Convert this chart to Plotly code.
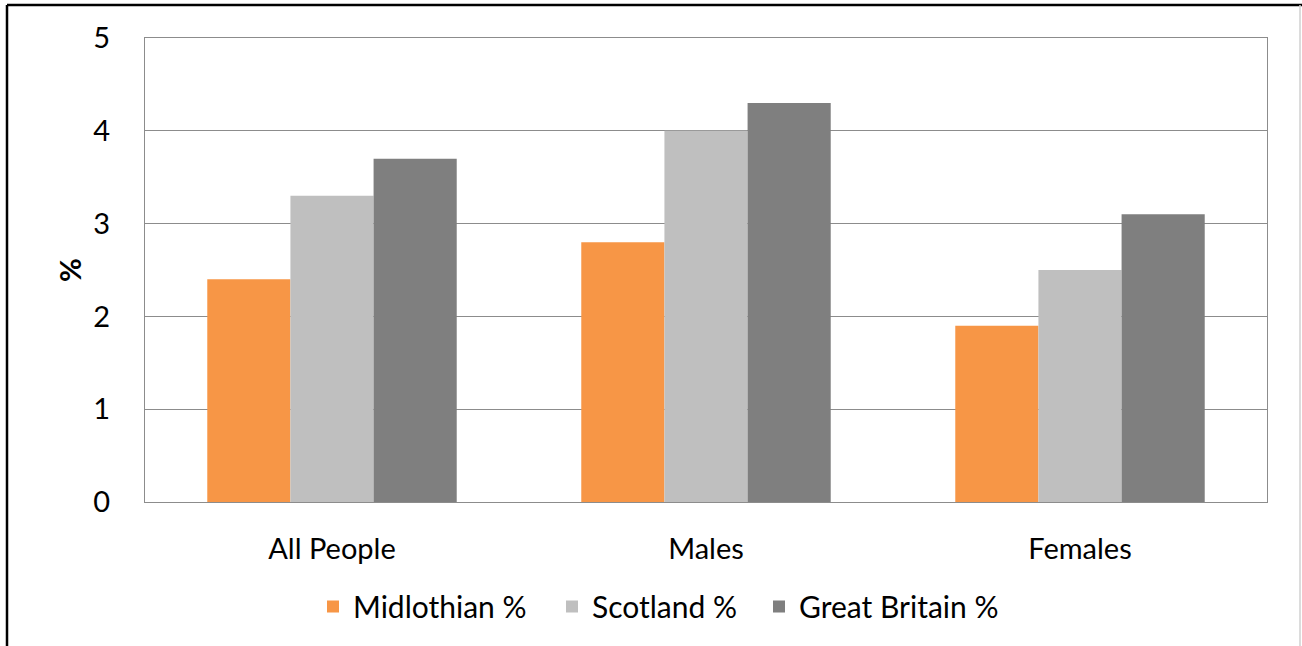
import plotly.graph_objects as go

categories = ["All People", "Males", "Females"]
midlothian = [2.4, 2.8, 1.9]
scotland = [3.3, 4.0, 2.5]
great_britain = [3.7, 4.3, 3.1]
series_names = ["Midlothian %", "Scotland %", "Great Britain %"]
colors = ["#F79646", "#BFBFBF", "#7F7F7F"]
legend_text_x = [353, 592, 799]  # px where each legend label starts

W, H = 1302, 646
L, T = 145, 38
R = W - 1267
B = H - 502
pw, ph = W - L - R, H - T - B

def px_x(x):
    return (x - L) / pw

def px_y(y):
    return (H - B - y) / ph

legend_ids = ["legend", "legend2", "legend3"]
fig = go.Figure()
for name, vals, c, lid in zip(series_names, [midlothian, scotland, great_britain], colors, legend_ids):
    fig.add_trace(go.Bar(x=categories, y=vals, name=name, legend=lid,
                         marker=dict(color=c, line=dict(width=0))))

grid_c = "#8C8C8C"
leg_common = dict(orientation="h", xref="container", yref="container", xanchor="left",
                  y=1 - 606.5 / H, yanchor="middle", font=dict(size=30),
                  itemwidth=30, borderwidth=0, bgcolor="rgba(0,0,0,0)")
legends = {}
for lid, tx in zip(legend_ids, legend_text_x):
    legends[lid] = dict(leg_common, x=(tx - 40) / W)

fig.update_layout(
    width=W, height=H,
    margin=dict(l=L, r=R, t=T, b=B, autoexpand=False),
    paper_bgcolor="white", plot_bgcolor="white",
    barmode="group", bargap=0.333, bargroupgap=0,
    font=dict(family="Lato", size=29, color="black"),
    xaxis=dict(showline=True, linecolor=grid_c, linewidth=1.3, mirror=True,
               ticks="", ticklabelstandoff=21, showgrid=False),
    yaxis=dict(range=[0, 5], dtick=1, showgrid=True, gridcolor=grid_c, gridwidth=1.3,
               showline=True, linecolor=grid_c, linewidth=1.3, mirror=True,
               ticks="", ticklabelstandoff=28, zeroline=False,
               title=dict(text="<b>%</b>", standoff=3, font=dict(size=29))),
    showlegend=True,
    **legends,
)

# outer border
fig.add_shape(type="line", xref="paper", yref="paper", x0=px_x(7), x1=px_x(1310), y0=px_y(5), y1=px_y(5),
              line=dict(color="black", width=2.5))
fig.add_shape(type="line", xref="paper", yref="paper", x0=px_x(7), x1=px_x(7), y0=px_y(5), y1=px_y(660),
              line=dict(color="black", width=2.5))
fig.add_shape(type="line", xref="paper", yref="paper", x0=px_x(1300), x1=px_x(1300), y0=px_y(5), y1=px_y(660),
              line=dict(color="#D0D0D0", width=1.5))

fig.write_html("out.html", config={"displayModeBar": False},
               post_script="document.body.style.margin='0';document.body.style.overflow='hidden';")
